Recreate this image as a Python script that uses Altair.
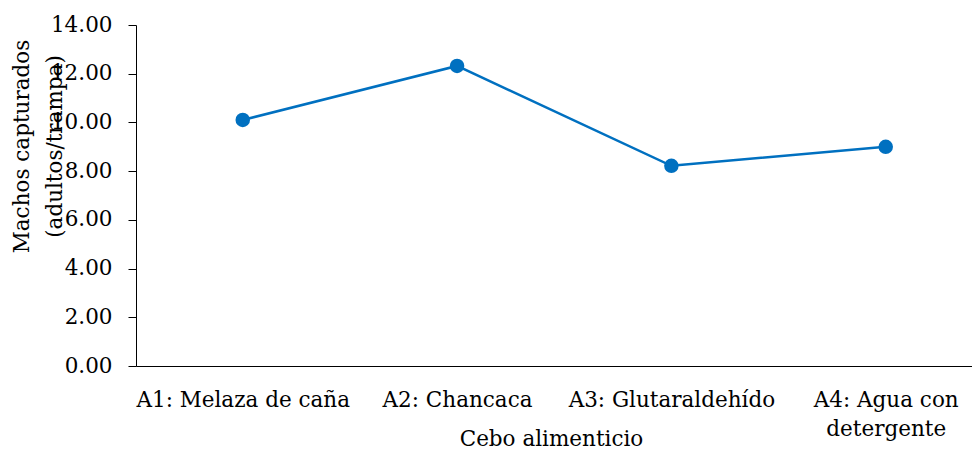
import altair as alt
import pandas as pd

categories = ["A1: Melaza de caña", "A2: Chancaca", "A3: Glutaraldehído", "A4: Agua con detergente"]
values = [10.10, 12.32, 8.22, 9.00]
y_ticks = [0, 2, 4, 6, 8, 10, 12, 14]

df = pd.DataFrame({"cebo": categories, "machos": values})

FONT = "DejaVu Serif"
FS = 21.5
BLUE = "#0070C0"

x_enc = alt.X(
    "cebo:N",
    sort=categories,
    scale=alt.Scale(type="point", padding=0.4503, align=0.553),
    axis=alt.Axis(
        title="Cebo alimenticio",
        titleFont=FONT, titleFontSize=FS, titleFontWeight="normal", titleColor="#000",
        titleBaseline="alphabetic", titleY=79, titleX=415, titleAlign="center",
        labelFont=FONT, labelFontSize=FS, labelColor="#000", labelAngle=0,
        labelPadding=40.7, labelLineHeight=28.5, labelBaseline="alphabetic", labelLimit=500,
        labelExpr="datum.value == 'A4: Agua con detergente' ? ['A4: Agua con', 'detergente'] : datum.value",
        ticks=False, tickSize=0, domainColor="#000", domainWidth=1, grid=False,
    ),
)

y_enc = alt.Y(
    "machos:Q",
    scale=alt.Scale(domain=[0, 14], nice=False, zero=True),
    axis=alt.Axis(
        title=["Machos capturados", "(adultos/trampa)"],
        titleFont=FONT, titleFontSize=FS, titleFontWeight="normal", titleColor="#000",
        titleAngle=270, titleAlign="center", titleBaseline="alphabetic",
        titleX=-108, titleY=121, titleLineHeight=33, titleLimit=600,
        values=y_ticks, format=".2f",
        labelFont=FONT, labelFontSize=FS, labelColor="#000", labelPadding=16,
        ticks=True, tickSize=8, tickColor="#000", tickWidth=1,
        domainColor="#000", domainWidth=1, grid=False,
    ),
)

chart = (
    alt.Chart(df)
    .mark_line(
        color=BLUE, strokeWidth=2.5,
        point=alt.OverlayMarkDef(filled=True, color=BLUE, size=210, opacity=1),
    )
    .encode(x=x_enc, y=y_enc)
    .properties(
        width=836, height=341,
        autosize=alt.AutoSizeParams(type="none"),
        padding={"left": 128, "top": 17, "right": 0, "bottom": 85},
        background="white",
    )
    .configure_view(stroke=None)
)

chart.save("out.html", embed_options={"renderer": "svg", "actions": False})
